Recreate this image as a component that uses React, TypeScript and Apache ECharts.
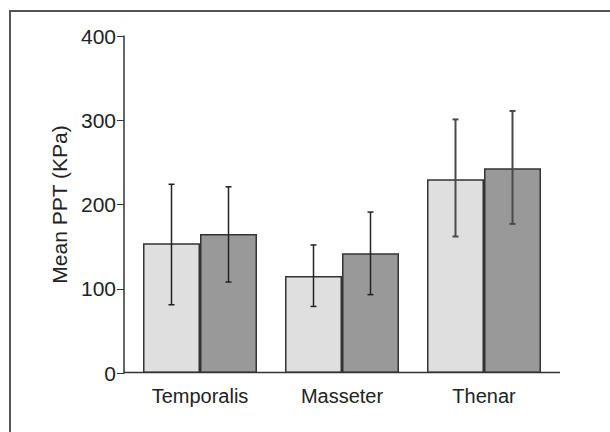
import React, { useEffect, useRef } from "react";
import * as echarts from "echarts";

const categories = ["Temporalis", "Masseter", "Thenar"];
const groupA = [154, 115, 230];
const groupB = [165, 142, 243];
const errA: [number, number][] = [
  [81, 224],
  [79, 152],
  [162, 301],
];
const errB: [number, number][] = [
  [108, 221],
  [93, 191],
  [177, 311],
];
const yTicks = { min: 0, max: 400, interval: 100 };

const BAR_W = 57;

function errorSeries(name: string, errs: [number, number][], offset: number) {
  return {
    type: "custom",
    name,
    z: 5,
    data: errs.map((e, i) => [i, e[0], e[1]]),
    renderItem: (params: any, api: any) => {
      const idx = api.value(0);
      const lo = api.coord([idx, api.value(1)]);
      const hi = api.coord([idx, api.value(2)]);
      const x = lo[0] + offset;
      const cap = 3;
      const strong = idx === 2;
      const style = {
        stroke: strong ? "#4a4a4a" : "#222",
        lineWidth: strong ? 2 : 1.5,
      };
      return {
        type: "group",
        children: [
          { type: "line", shape: { x1: x, y1: lo[1], x2: x, y2: hi[1] }, style },
          { type: "line", shape: { x1: x - cap, y1: lo[1], x2: x + cap, y2: lo[1] }, style },
          { type: "line", shape: { x1: x - cap, y1: hi[1], x2: x + cap, y2: hi[1] }, style },
        ],
      };
    },
  };
}

export default function App() {
  const ref = useRef<HTMLDivElement>(null);
  useEffect(() => {
    if (!ref.current) return;
    const chart = echarts.init(ref.current, undefined, { renderer: "svg" });
    chart.setOption({
      animation: false,
      backgroundColor: "#ffffff",
      grid: { left: 129, right: 55, top: 36, bottom: 59, containLabel: false },
      xAxis: {
        type: "category",
        data: categories,
        axisLine: { show: false },
        axisTick: { show: false },
        axisLabel: {
          color: "#222",
          fontFamily: "Liberation Sans",
          fontSize: 20,
          margin: 13,
        },
      },
      yAxis: {
        type: "value",
        min: yTicks.min,
        max: yTicks.max,
        interval: yTicks.interval,
        offset: 5,
        name: "Mean PPT (KPa)",
        nameLocation: "middle",
        nameGap: 47,
        nameTextStyle: { color: "#222", fontFamily: "Liberation Sans", fontSize: 21 },
        axisLine: { show: true, lineStyle: { color: "#333", width: 1.5 } },
        axisTick: { show: true, length: 7, lineStyle: { color: "#333", width: 1 } },
        axisLabel: { color: "#222", fontFamily: "Liberation Sans", fontSize: 21, margin: 8 },
        splitLine: { show: false },
      },
      series: [
        {
          type: "bar",
          name: "A",
          data: groupA,
          barWidth: BAR_W,
          barGap: "0%",
          itemStyle: { color: "#dfdfdf", borderColor: "#333", borderWidth: 1.5 },
        },
        {
          type: "bar",
          name: "B",
          data: groupB,
          barWidth: BAR_W,
          barGap: "0%",
          itemStyle: { color: "#999999", borderColor: "#333", borderWidth: 1.5 },
        },
        errorSeries("errA", errA, -BAR_W / 2),
        errorSeries("errB", errB, BAR_W / 2),
      ],
      graphic: [
        {
          type: "rect",
          shape: { x: 10, y: 11, width: 700, height: 500 },
          style: { fill: "none", stroke: "#555", lineWidth: 2 },
          silent: true,
        },
        {
          type: "line",
          shape: { x1: 124, y1: 372.5, x2: 560, y2: 372.5 },
          style: { stroke: "#333", lineWidth: 1.5 },
          z: 10,
          silent: true,
        },
      ],
    });
    return () => chart.dispose();
  }, []);
  return (
    <div
      ref={ref}
      style={{ position: "fixed", left: 0, top: 0, width: 610, height: 432 }}
    />
  );
}
